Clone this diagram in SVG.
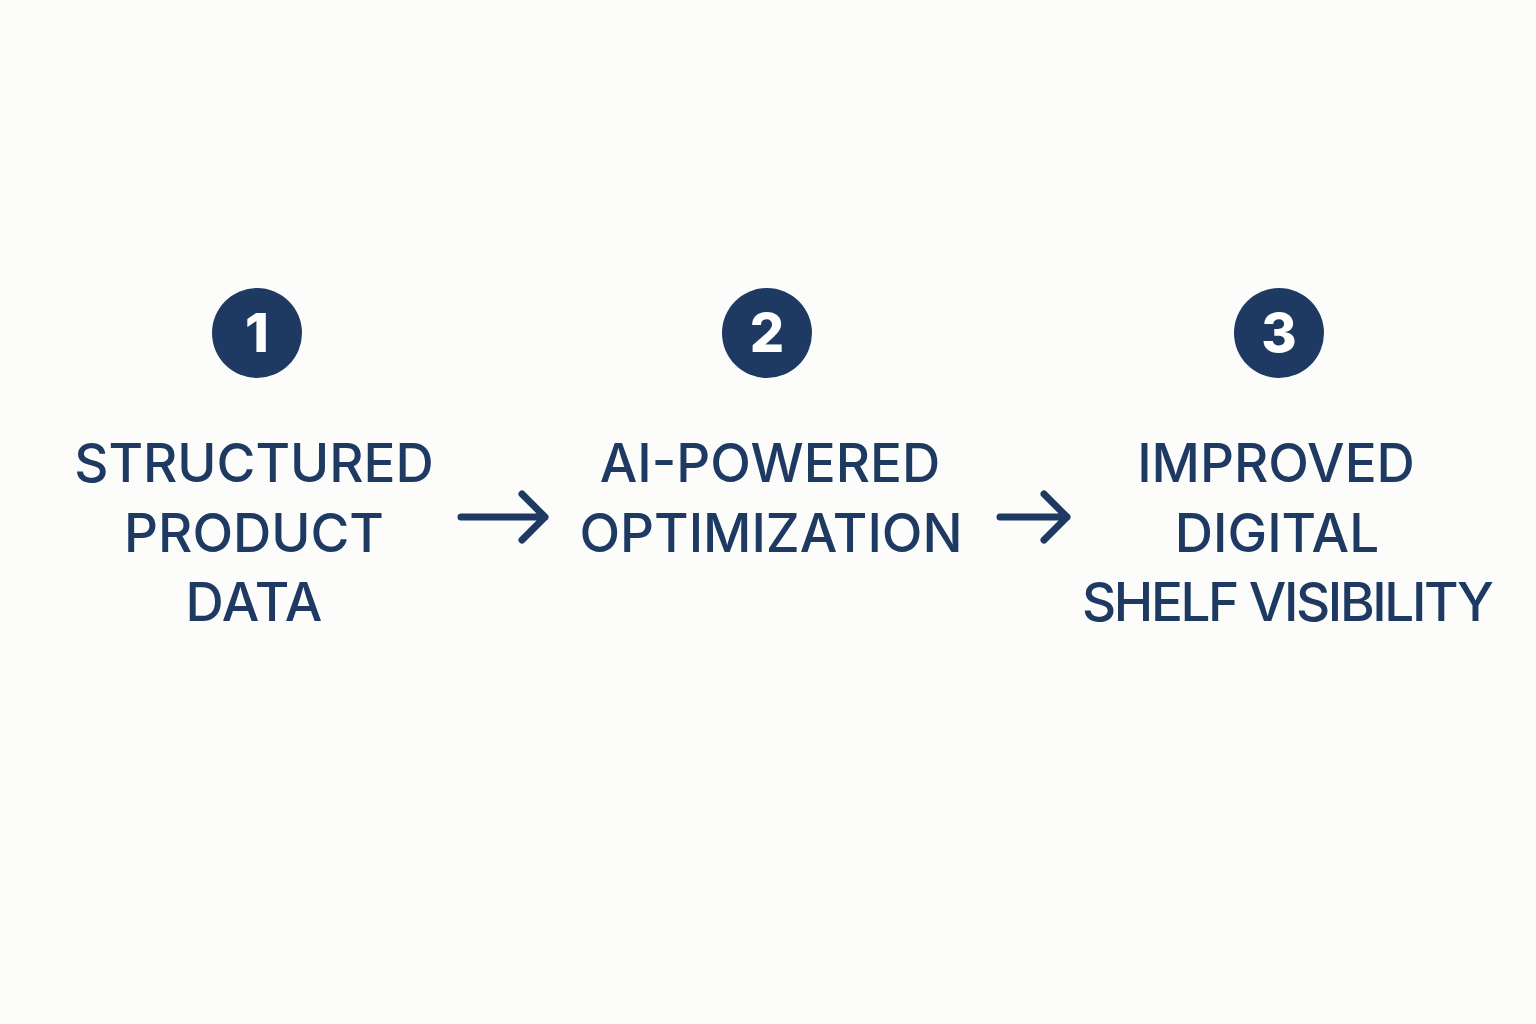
<svg xmlns="http://www.w3.org/2000/svg" width="1536" height="1024" viewBox="0 0 1536 1024">
<style>
.bg{fill:#fcfcfa}
.circ{fill:#1e3a63}
.num{fill:#ffffff;font-family:Inter,"Liberation Sans",sans-serif;font-weight:800;font-size:54px;text-anchor:middle}
.lbl{fill:#1e3a63;font-family:Inter,"Liberation Sans",sans-serif;font-weight:500;font-size:53px;text-anchor:middle}
.arr{fill:none;stroke:#1e3a63;stroke-width:7;stroke-linecap:round;stroke-linejoin:round}
</style>
<rect class="bg" x="0" y="0" width="1536" height="1024"/>
<g id="node1">
<circle class="circ" cx="257" cy="333" r="45"/>
<text class="num" x="257" y="352">1</text>
<text class="lbl" x="254" y="482">STRUCTURED</text>
<text class="lbl" x="254" y="552">PRODUCT</text>
<text class="lbl" x="254" y="621">DATA</text>
</g>
<g id="node2">
<circle class="circ" cx="767" cy="333" r="45"/>
<text class="num" x="767" y="352">2</text>
<text class="lbl" x="770" y="482">AI-POWERED</text>
<text class="lbl" x="771" y="552">OPTIMIZATION</text>
</g>
<g id="node3">
<circle class="circ" cx="1279" cy="333" r="45"/>
<text class="num" x="1279" y="352">3</text>
<text class="lbl" x="1276" y="482">IMPROVED</text>
<text class="lbl" x="1277" y="552">DIGITAL</text>
<text class="lbl" x="1288" y="621" textLength="412" lengthAdjust="spacing">SHELF VISIBILITY</text>
</g>
<g id="connectors">
<path class="arr" d="M461 517 H545 M522 494 L545 517 L522 540"/>
<path class="arr" d="M1000 517 H1067 M1044 494 L1067 517 L1044 540"/>
</g>
</svg>
